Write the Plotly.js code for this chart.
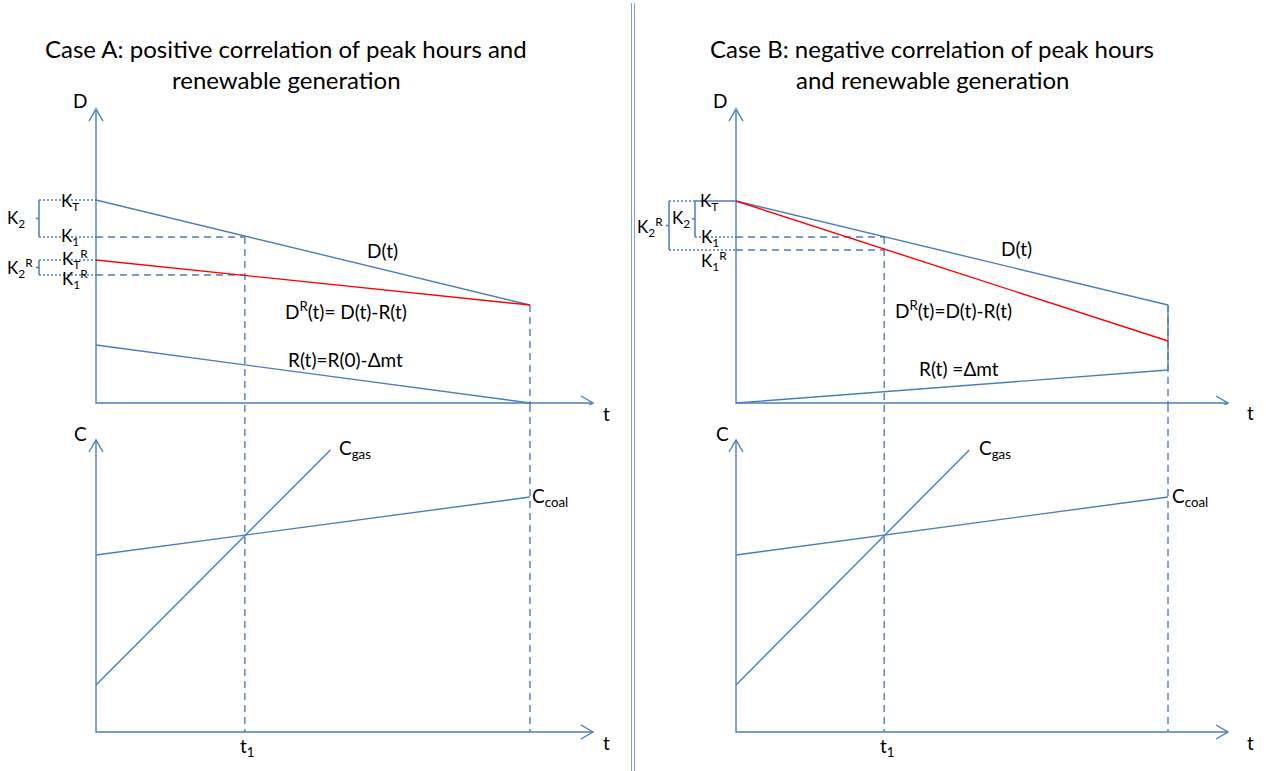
<!DOCTYPE html>
<html><head><meta charset="utf-8">
<script src="https://cdn.plot.ly/plotly-3.0.1.min.js"></script>
<style>html,body{margin:0;padding:0;background:#fff;}#chart{width:1266px;height:771px;}</style>
</head><body><div id="chart"></div>
<script>
// ---------------- data (conceptual units) ----------------
const T_POINTS = [0, 10];                 // start of period and its end T
const T1 = 3.43;                          // t1: C_gas = C_coal
// Case A: positive correlation
const A_D  = [20.3, 9.8];                 // D(t)
const A_DR = [14.3, 9.8];                 // D^R(t) = D(t) - R(t)
const A_R  = [5.8, 0.0];                  // R(t) = R(0) - Δm t
const A_K  = [20.3, 16.6, 14.3, 12.8];    // K_T, K_1, K_T^R, K_1^R
// Case B: negative correlation
const B_D  = [20.2, 9.8];
const B_DR = [20.2, 6.2];
const B_R  = [0.0, 3.3];                  // R(t) = Δm t
const B_K  = [20.2, 16.6, 20.2, 15.3];
// Cost curves (both cases)
const COAL_T = [0, 10];
const C_COAL = [17.7, 23.5];
const GAS_T  = [0, 5.4];
const C_GAS  = [4.7, 28.2];

// ---------------- layout geometry / styles ----------------
const W = 1266, H = 771;
const BLUE = '#4A7EBB', RED = '#FF0000', DIVC = '#7F9ED6';
const FONT = 'Lato, "Open Sans", sans-serif';
const PX_V = 10;                          // pixels per D / C unit
const OY_TOP = 403, OY_BOT = 732;
const Y_TOP_PX = 92, SPLIT_PX = 405, BOTTOM_PX = 745;
const D_TIP_PX = 109, C_TIP_PX = 440;
const LW = 1.4;
const TITLE_SIZE = 24, LABEL_SIZE = 19, K_SIZE = 17;

const PANELS = [
  {ox: 96, pxT: 43.4, left: 0, right: 625, tTipPx: 593,
   D: A_D, DR: A_DR, R: A_R, K: A_K, closeEnd: false,
   brackets: [{px: 39, a: 0, b: 1}, {px: 39, a: 2, b: 3}]},
  {ox: 736, pxT: 43.2, left: 640, right: 1266, tTipPx: 1228,
   D: B_D, DR: B_DR, R: B_R, K: B_K, closeEnd: true,
   brackets: [{px: 669, a: 0, b: 3}, {px: 695, a: 0, b: 1}]}
];

const traces = [];
const layout = {
  width: W, height: H, margin: {l: 0, r: 0, t: 0, b: 0},
  paper_bgcolor: '#fff', plot_bgcolor: 'rgba(0,0,0,0)', showlegend: false,
  font: {family: FONT, color: '#000', size: LABEL_SIZE},
  annotations: [], shapes: []
};

function ln(n, x, y, color, dash, width) {
  traces.push({type: 'scatter', mode: 'lines', x: x, y: y,
    xaxis: n === 1 ? 'x' : 'x' + n, yaxis: n === 1 ? 'y' : 'y' + n,
    line: {color: color, width: width || LW, dash: dash || 'solid'},
    hoverinfo: 'skip'});
}
function lab(text, px, py, xanchor, size) {
  layout.annotations.push({text: text, xref: 'paper', yref: 'paper',
    x: px / W, y: 1 - py / H, xanchor: xanchor || 'left', yanchor: 'middle',
    showarrow: false, borderpad: 0,
    font: {family: FONT, size: size || LABEL_SIZE, color: '#000'}});
}

PANELS.forEach((p, i) => {
  const nTop = 2 * i + 1, nBot = 2 * i + 2;
  const xr = [(p.left - p.ox) / p.pxT, (p.right - p.ox) / p.pxT];
  const xd = [p.left / W, p.right / W];
  const yTopR = [(OY_TOP - SPLIT_PX) / PX_V, (OY_TOP - Y_TOP_PX) / PX_V];
  const yBotR = [(OY_BOT - BOTTOM_PX) / PX_V, (OY_BOT - SPLIT_PX) / PX_V];
  const k = (n) => n === 1 ? '' : n;
  layout['xaxis' + k(nTop)] = {domain: xd, range: xr, visible: false, fixedrange: true, anchor: 'y' + k(nTop)};
  layout['yaxis' + k(nTop)] = {domain: [1 - SPLIT_PX / H, 1 - Y_TOP_PX / H], range: yTopR, visible: false, fixedrange: true, anchor: 'x' + k(nTop)};
  layout['xaxis' + k(nBot)] = {domain: xd, range: xr, visible: false, fixedrange: true, anchor: 'y' + k(nBot)};
  layout['yaxis' + k(nBot)] = {domain: [1 - BOTTOM_PX / H, 1 - SPLIT_PX / H], range: yBotR, visible: false, fixedrange: true, anchor: 'x' + k(nBot)};

  const tTip = (p.tTipPx - p.ox) / p.pxT;
  const dTip = (OY_TOP - D_TIP_PX) / PX_V;
  const cTip = (OY_BOT - C_TIP_PX) / PX_V;
  const aL = 12, aW = 7;
  // axes with open arrow heads
  [[nTop, dTip], [nBot, cTip]].forEach(([n, vTip]) => {
    ln(n, [0, 0, tTip], [vTip, 0, 0], BLUE);
    ln(n, [tTip - aL / p.pxT, tTip, tTip - aL / p.pxT], [aW / PX_V, 0, -aW / PX_V], BLUE);
    ln(n, [-aW / p.pxT, 0, aW / p.pxT], [vTip - aL / PX_V, vTip, vTip - aL / PX_V], BLUE);
  });

  const T = T_POINTS[1];
  const [KT, K1, KTR, K1R] = p.K;
  // helper dashed lines
  ln(nTop, [0, T1], [K1, K1], BLUE, '7px,5px');
  ln(nTop, [0, T1], [K1R, K1R], BLUE, '7px,5px');
  ln(nTop, [T1, T1], [K1, yTopR[0]], BLUE, '7px,5px');
  ln(nTop, [T, T], [p.D[1], yTopR[0]], BLUE, '7px,5px');
  ln(nBot, [T1, T1], [yBotR[1], 0], BLUE, '7px,5px');
  ln(nBot, [T, T], [yBotR[1], 0], BLUE, '7px,5px');
  // demand / renewable lines
  ln(nTop, T_POINTS, p.D, BLUE);
  ln(nTop, T_POINTS, p.R, BLUE);
  if (p.closeEnd) ln(nTop, [T, T], [p.R[1], p.D[1]], BLUE);
  ln(nTop, T_POINTS, p.DR, RED);
  // cost lines
  ln(nBot, COAL_T, C_COAL, BLUE);
  ln(nBot, GAS_T, C_GAS, BLUE);
  // brackets
  p.brackets.forEach(b => {
    const bx = (b.px - p.ox) / p.pxT;
    const tx = (b.px - 3 - p.ox) / p.pxT;
    const ya = p.K[b.a], yb = p.K[b.b];
    ln(nTop, [bx, 0], [ya, ya], BLUE, '2px,2px', 1.5);
    ln(nTop, [bx, 0], [yb, yb], BLUE, '2px,2px', 1.5);
    ln(nTop, [bx, bx], [ya, yb], BLUE, 'solid', 1.5);
    ln(nTop, [tx, bx], [(ya + yb) / 2, (ya + yb) / 2], BLUE, 'solid', 1.5);
  });
});

// divider (double line)
[631.5, 634.5].forEach(x => layout.shapes.push({type: 'line', xref: 'paper', yref: 'paper',
  x0: x / W, x1: x / W, y0: 1 - 3 / H, y1: 0, line: {color: DIVC, width: 1}}));

// titles
lab('Case A: positive correlation of peak hours and', 286, 48, 'center', TITLE_SIZE);
lab('renewable generation', 286, 80, 'center', TITLE_SIZE);
lab('Case B: negative correlation of peak hours', 932, 48, 'center', TITLE_SIZE);
lab('and renewable generation', 932, 80, 'center', TITLE_SIZE);

// axis labels
lab('D', 80, 101, 'center'); lab('t', 606, 413, 'center');
lab('C', 80, 433, 'center'); lab('t', 606, 742, 'center');
lab('t<sub>1</sub>', 239, 747, 'left');
lab('D', 720, 101, 'center'); lab('t', 1250, 412, 'center');
lab('C', 722, 433, 'center'); lab('t', 1250, 742, 'center');
lab('t<sub>1</sub>', 879, 747, 'left');

// case A labels
lab('K<sub>T</sub>', 60, 202, 'left', K_SIZE); lab('K<sub>1</sub>', 60, 237, 'left', K_SIZE);
lab('K<sub>T</sub><sup>R</sup>', 61, 259, 'left', K_SIZE); lab('K<sub>1</sub><sup>R</sup>', 61, 279, 'left', K_SIZE);
lab('K<sub>2</sub>', 6, 219, 'left', K_SIZE); lab('K<sub>2</sub><sup>R</sup>', 6, 268, 'left', K_SIZE);
lab('D(t)', 382, 251, 'center');
lab('D<sup>R</sup>(t)= D(t)-R(t)', 284, 310);
lab('R(t)=R(0)-Δmt', 287, 359);
lab('C<sub>gas</sub>', 338, 449);
lab('C<sub>coal</sub>', 531, 497);

// case B labels
lab('K<sub>T</sub>', 699, 202, 'left', K_SIZE); lab('K<sub>1</sub>', 700, 238, 'left', K_SIZE);
lab('K<sub>1</sub><sup>R</sup>', 700, 261, 'left', K_SIZE);
lab('K<sub>2</sub>', 671, 219, 'left', K_SIZE); lab('K<sub>2</sub><sup>R</sup>', 636, 227, 'left', K_SIZE);
lab('D(t)', 1016, 249, 'center');
lab('D<sup>R</sup>(t)=D(t)-R(t)', 894, 309);
lab('R(t) =Δmt', 918, 368);
lab('C<sub>gas</sub>', 978, 449);
lab('C<sub>coal</sub>', 1171, 497);

Plotly.newPlot('chart', traces, layout, {staticPlot: true, displayModeBar: false});
</script></body></html>
